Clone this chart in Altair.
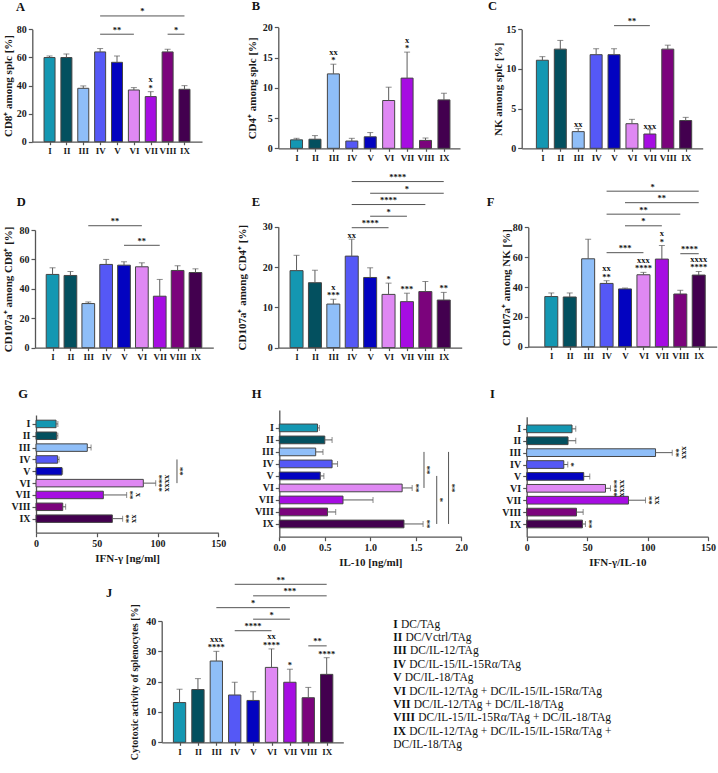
import altair as alt
import pandas as pd

SERIF = "Liberation Serif"
PAGE_W, PAGE_H = 718, 773

groups = ["I", "II", "III", "IV", "V", "VI", "VII", "VIII", "IX"]
colors = ["#1497b2", "#03505f", "#8fbef8", "#5558f6", "#0303c0",
          "#df88f3", "#a60de2", "#7b037c", "#43004f"]

# ---------------- data ----------------
# A  CD8+ among splc
a_mean = [59.9, 59.9, 38.0, 63.9, 56.5, 36.8, 32.1, 63.9, 37.3]
a_sem = [1.1, 2.6, 1.7, 2.4, 4.5, 1.7, 3.5, 1.9, 2.6]
a_lo = ["", "", "", "", "", "", "*", "", ""]
a_hi = ["", "", "", "", "", "", "x", "", ""]
a_lines = (["IV", "IV", "VIII"], ["IX", "VI", "IX"], [89.5, 76.5, 76.5], ["*", "**", "*"])

# B  CD4+ among splc
b_mean = [1.4, 1.5, 12.3, 1.2, 1.9, 7.9, 11.6, 1.3, 8.0]
b_sem = [0.25, 0.6, 1.6, 0.45, 0.7, 2.2, 4.3, 0.4, 1.1]
b_lo = ["", "", "*", "", "", "", "*", "", ""]
b_hi = ["", "", "xx", "", "", "", "x", "", ""]
b_lines = ([], [], [], [])

# C  NK among splc
c_mean = [11.1, 12.5, 2.1, 11.8, 11.8, 3.1, 1.8, 12.5, 3.5]
c_sem = [0.45, 1.1, 0.4, 0.75, 0.75, 0.55, 0.55, 0.5, 0.4]
c_lo = ["", "", "xx", "", "", "", "xxx", "", ""]
c_hi = [""] * 9
c_lines = (["V"], ["VII"], [15.46], ["**"])

# D  CD107a+ among CD8+
d_mean = [49.8, 49.1, 30.0, 56.6, 56.1, 55.0, 35.0, 52.5, 51.1]
d_sem = [4.5, 2.7, 1.1, 3.4, 2.3, 2.7, 11.4, 3.2, 2.5]
d_lo = [""] * 9
d_hi = [""] * 9
d_lines = (["III", "V"], ["VI", "VII"], [82.9, 69.6], ["**", "**"])

# E  CD107a+ among CD4+
e_mean = [19.1, 16.1, 10.8, 22.7, 17.4, 13.2, 11.4, 13.9, 11.8]
e_sem = [3.8, 3.1, 1.2, 4.2, 2.4, 2.8, 2.1, 2.5, 1.9]
e_lo = ["", "", "***", "xx", "", "*", "***", "", "**"]
e_hi = ["", "", "x", "", "", "", "", "", ""]
e_lines = (["IV", "V", "IV", "V", "IV"], ["IX", "IX", "VIII", "VII", "VI"],
           [41.2, 38.3, 35.5, 32.6, 29.75], ["****", "*", "****", "*", "****"])

# F  CD107a+ among NK
f_mean = [33.6, 33.3, 58.9, 42.4, 38.7, 48.2, 58.7, 35.3, 48.0]
f_sem = [2.4, 2.7, 13.1, 1.8, 0.6, 1.6, 9.1, 2.5, 2.4]
f_lo = ["", "", "", "**", "", "****", "*", "", "****"]
f_hi = ["", "", "", "xx", "", "xxx", "x", "", "xxxx"]
f_lines = (["IV", "V", "IV", "V", "IV", "VIII"], ["IX", "IX", "VIII", "VII", "VI", "IX"],
           [104.2, 96.5, 88.8, 81.0, 63.0, 62.3], ["*", "**", "**", "*", "***", "****"])

# G  IFN-gamma
g_mean = [16.5, 17.0, 42.2, 17.8, 21.4, 88.3, 55.4, 22.0, 62.8]
g_sem = [1.5, 1.0, 3.1, 1.2, 0.5, 10.2, 19.2, 2.4, 8.5]
g_near = ["", "", "", "", "", "****", "**", "", "**"]
g_far = ["", "", "", "", "", "xxxx", "x", "", "xx"]
g_lines = (["IV"], ["VI"], [116.0], ["**"])

# H  IL-10
h_mean = [0.42, 0.50, 0.40, 0.58, 0.45, 1.35, 0.70, 0.53, 1.37]
h_sem = [0.02, 0.08, 0.08, 0.06, 0.04, 0.11, 0.33, 0.09, 0.21]
h_near = ["", "", "", "", "", "**", "", "", "**"]
h_far = [""] * 9
h_lines = (["III", "V", "III"], ["VI", "IX", "IX"], [1.59, 1.73, 1.86], ["**", "*", "**"])

# I  IFN-gamma / IL-10
i_mean = [37.5, 34.2, 106.6, 30.7, 47.2, 65.2, 84.2, 41.2, 46.1]
i_sem = [3.1, 6.4, 13.8, 3.3, 5.0, 4.1, 14.1, 5.5, 2.5]
i_near = ["", "", "**", "*", "", "****", "**", "", "**"]
i_far = ["", "", "xxx", "", "", "xxxx", "xx", "", ""]
i_lines = ([], [], [], [])

# J  cytotoxic activity
j_mean = [13.1, 17.4, 26.8, 15.6, 13.8, 24.7, 19.8, 14.7, 22.4]
j_sem = [4.4, 3.6, 3.2, 4.2, 2.9, 6.1, 4.3, 3.4, 5.5]
j_lo = ["", "", "****", "", "", "****", "*", "", "****"]
j_hi = ["", "", "xxx", "", "", "xx", "", "", ""]
j_lines = (["IV", "V", "III", "V", "IV", "VIII"], ["IX", "IX", "VII", "VII", "VI", "IX"],
           [52.1, 48.3, 44.4, 40.6, 36.8, 31.8], ["**", "***", "*", "*", "****", "**"])

panel_letters = ["A", "B", "C", "D", "E", "F", "G", "H", "I", "J"]

leg_num = ["I", "II", "III", "IV", "V", "VI", "VII", "VIII", "IX", ""]
leg_txt = ["DC/TAg", "DC/Vctrl/TAg", "DC/IL-12/TAg", "DC/IL-15/IL-15Rα/TAg", "DC/IL-18/TAg",
           "DC/IL-12/TAg + DC/IL-15/IL-15Rα/TAg", "DC/IL-12/TAg + DC/IL-18/TAg",
           "DC/IL-15/IL-15Rα/TAg + DC/IL-18/TAg", "DC/IL-12/TAg + DC/IL-15/IL-15Rα/TAg +",
           "DC/IL-18/TAg"]

# ---------------- layout (page pixels) ----------------
gA = dict(x0=32.3, x1=202, c0=45.3, c8=188.7, bw=11, y0=141.7, y1=29.3, tx=-20.6)
gB = dict(x0=278.3, x1=460, c0=292.3, c8=448.3, bw=12, y0=148.3, y1=27.3, tx=-22.9)
gC = dict(x0=521.7, x1=702.7, c0=538.3, c8=690, bw=12, y0=148.3, y1=29.3, tx=-20.7)
gD = dict(x0=35, x1=213.3, c0=48.3, c8=199.7, bw=12.7, y0=347.7, y1=230, tx=-24)
gE = dict(x0=278.3, x1=461.7, c0=292.3, c8=448, bw=13, y0=347.6, y1=226.7, tx=-32.3)
gF = dict(x0=528.3, x1=716.7, c0=547.3, c8=703, bw=13, y0=346.7, y1=227.3, tx=-18.9)
gJ = dict(x0=161.7, x1=343.3, c0=175.3, c8=331, bw=12.3, y0=742.3, y1=621, tx=-24, tfs=10)
gG = dict(x0=36, x1=218.3, y0=415, y1=532.7, c0=419.3, c8=522.8, bt=7.5)
gH = dict(x0=279.3, x1=461.3, y0=410, y1=536.7, c0=424, c8=528.3, bt=7.7)
gI = dict(x0=526.7, x1=708, y0=416.7, y1=536.7, c0=424.5, c8=528.3, bt=7.7)
letter_x = [16, 251.7, 488, 16.7, 251.7, 486.7, 18.3, 251.7, 490, 106]
letter_y = [10.5, 10, 10, 206, 206, 206, 398.3, 398, 398, 597]
LEG_X, LEG_Y0, LEG_Y9, LEG_FS = 393.3, 624.7, 745, 11.5
ANN_FS = 8.5

# ---------------- helpers ----------------
LABEL_EXPR = "[" + ",".join("'" + g + "'" for g in groups) + "][datum.value]"
gidx = {g: i for i, g in enumerate(groups)}
COLOR = alt.Color("g:N", scale=alt.Scale(domain=groups, range=colors), legend=None)
ERR_C = "#5c5c5c"
LINE_C = "#555555"
BAR_STROKE = "#454545"


def idx_scale(c0, c8, a0, a1):
    step = (c8 - c0) / 8.0
    return alt.Scale(domain=[(a0 - c0) / step, 8 + (a1 - c8) / step],
                     range=[a0, a1], nice=False, zero=False)


def txt(**kw):
    d = dict(font=SERIF, fontWeight="bold", fontSize=ANN_FS, color="#111111",
             baseline="middle", align="center")
    d.update(kw)
    return d


def line_df(lines):
    f, t, lv, lab = lines
    ldf = pd.DataFrame({"fi": [gidx[a] for a in f], "ti": [gidx[b] for b in t],
                        "lv": lv, "lab": lab})
    ldf["mid"] = (ldf["fi"] + ldf["ti"]) / 2.0
    return ldf


def vpanel(ytitle, means, sems, ticks, lo, hi, lines, g):
    df = pd.DataFrame({"g": groups, "i": list(range(9)), "m": means,
                       "hi": [m + s for m, s in zip(means, sems)], "lo_t": lo, "hi_t": hi})
    xs = idx_scale(g["c0"], g["c8"], g["x0"], g["x1"])
    ys = alt.Scale(domain=[0, ticks[-1]], range=[g["y0"], g["y1"]], nice=False, zero=False)
    xax = alt.Axis(orient="bottom", offset=g["y0"] - PAGE_H, values=list(range(9)),
                   labelExpr=LABEL_EXPR, title=None, tickSize=3, labelFontSize=9)
    yax = alt.Axis(orient="left", offset=-g["x0"], values=ticks, title=ytitle,
                   titleX=g["tx"], titleAngle=-90, titleBaseline="alphabetic",
                   titleAlign="center", titleFontSize=g.get("tfs", 11))

    def X(f):
        return alt.X(f, type="quantitative", scale=xs, axis=xax)

    def Y(f):
        return alt.Y(f, type="quantitative", scale=ys, axis=yax, stack=None)

    base = alt.Chart(df)
    layers = [
        base.mark_bar(orient="vertical", width=g["bw"], stroke=BAR_STROKE, strokeWidth=1)
            .encode(x=X("i"), y=Y("m"), color=COLOR),
        base.mark_rule(color=ERR_C, strokeWidth=1).encode(x=X("i"), y=Y("m"), y2="hi:Q"),
        base.mark_tick(orient="horizontal", size=6, thickness=1, color=ERR_C)
            .encode(x=X("i"), y=Y("hi")),
        base.mark_text(**txt(dy=-4)).encode(x=X("i"), y=Y("hi"), text="lo_t:N"),
        base.mark_text(**txt(dy=-12.6)).encode(x=X("i"), y=Y("hi"), text="hi_t:N"),
    ]
    if lines[0]:
        lb = alt.Chart(line_df(lines))
        layers += [
            lb.mark_rule(color=LINE_C, strokeWidth=1).encode(x=X("fi"), x2="ti:Q", y=Y("lv")),
            lb.mark_text(**txt(baseline="bottom", dy=0.5)).encode(x=X("mid"), y=Y("lv"), text="lab:N"),
        ]
    return alt.layer(*layers)


def hpanel(xtitle, means, sems, ticks, near, far, lines, g, fmt=None):
    df = pd.DataFrame({"g": groups, "i": list(range(9)), "m": means,
                       "hi": [m + s for m, s in zip(means, sems)], "n_t": near, "f_t": far})
    ys = idx_scale(g["c0"], g["c8"], g["y0"], g["y1"])
    xs = alt.Scale(domain=[ticks[0], ticks[-1]], range=[g["x0"], g["x1"]], nice=False, zero=False)
    yax = alt.Axis(orient="left", offset=-g["x0"], values=list(range(9)),
                   labelExpr=LABEL_EXPR, title=None)
    if fmt:
        xax = alt.Axis(orient="bottom", offset=g["y1"] - PAGE_H, values=ticks, title=xtitle, format=fmt)
    else:
        xax = alt.Axis(orient="bottom", offset=g["y1"] - PAGE_H, values=ticks, title=xtitle)

    def X(f):
        return alt.X(f, type="quantitative", scale=xs, axis=xax, stack=None)

    def Y(f):
        return alt.Y(f, type="quantitative", scale=ys, axis=yax)

    base = alt.Chart(df)
    layers = [
        base.mark_bar(orient="horizontal", height=g["bt"], stroke=BAR_STROKE, strokeWidth=1)
            .encode(x=X("m"), y=Y("i"), color=COLOR),
        base.mark_rule(color=ERR_C, strokeWidth=1).encode(x=X("m"), x2="hi:Q", y=Y("i")),
        base.mark_tick(orient="vertical", size=6, thickness=1, color=ERR_C)
            .encode(x=X("hi"), y=Y("i")),
        base.mark_text(**txt(angle=90, dy=-3.5)).encode(x=X("hi"), y=Y("i"), text="n_t:N"),
        base.mark_text(**txt(angle=90, dy=-12.6)).encode(x=X("hi"), y=Y("i"), text="f_t:N"),
    ]
    if lines[0]:
        lb = alt.Chart(line_df(lines))
        layers += [
            lb.mark_rule(color=LINE_C, strokeWidth=1).encode(y=Y("fi"), y2="ti:Q", x=X("lv")),
            lb.mark_text(**txt(angle=90, dy=-3)).encode(x=X("lv"), y=Y("mid"), text="lab:N"),
        ]
    return alt.layer(*layers)


A = vpanel("CD8⁺ among splc [%]", a_mean, a_sem, [0, 20, 40, 60, 80], a_lo, a_hi, a_lines, gA)
B = vpanel("CD4⁺ among splc [%]", b_mean, b_sem, [0, 5, 10, 15, 20], b_lo, b_hi, b_lines, gB)
C = vpanel("NK among splc [%]", c_mean, c_sem, [0, 5, 10, 15], c_lo, c_hi, c_lines, gC)
D = vpanel("CD107a⁺ among CD8⁺ [%]", d_mean, d_sem, [0, 20, 40, 60, 80], d_lo, d_hi, d_lines, gD)
E = vpanel("CD107a⁺ among CD4⁺ [%]", e_mean, e_sem, [0, 10, 20, 30], e_lo, e_hi, e_lines, gE)
F = vpanel("CD107a⁺ among NK [%]", f_mean, f_sem, [0, 20, 40, 60, 80], f_lo, f_hi, f_lines, gF)
G = hpanel("IFN-γ [ng/ml]", g_mean, g_sem, [0, 50, 100, 150], g_near, g_far, g_lines, gG)
H = hpanel("IL-10 [ng/ml]", h_mean, h_sem, [0, 0.5, 1.0, 1.5, 2.0], h_near, h_far, h_lines, gH, fmt=".1f")
I = hpanel("IFN-γ/IL-10", i_mean, i_sem, [0, 50, 100, 150], i_near, i_far, i_lines, gI)
J = vpanel("Cytotoxic activity of splenocytes [%]", j_mean, j_sem, [0, 10, 20, 30, 40],
           j_lo, j_hi, j_lines, gJ)

# page-identity scales for labels
PX = alt.Scale(domain=[0, PAGE_W], range=[0, PAGE_W], nice=False, zero=False)
PY = alt.Scale(domain=[0, PAGE_H], range=[0, PAGE_H], nice=False, zero=False)

letters = alt.Chart(pd.DataFrame({"t": panel_letters, "px": letter_x, "py": letter_y})).mark_text(
    align="left", baseline="alphabetic", font=SERIF, fontSize=12.5, fontWeight="bold", color="#111111"
).encode(x=alt.X("px:Q", scale=PX, axis=None), y=alt.Y("py:Q", scale=PY, axis=None), text="t:N")


def num_w(s):
    return sum(0.722 if ch in "VX" else 0.389 for ch in s) * LEG_FS + (3.2 if s else 0)


step_y = (LEG_Y9 - LEG_Y0) / 9.0
ldf = pd.DataFrame({"num": leg_num, "txt": leg_txt,
                    "nx": [LEG_X] * len(leg_num),
                    "tx": [LEG_X + num_w(s) for s in leg_num],
                    "ly": [LEG_Y0 + k * step_y for k in range(len(leg_num))]})
lbase = alt.Chart(ldf)
legend = alt.layer(
    lbase.mark_text(align="left", baseline="middle", font=SERIF, fontSize=LEG_FS,
                    fontWeight="bold", color="#111111")
        .encode(x=alt.X("nx:Q", scale=PX, axis=None), y=alt.Y("ly:Q", scale=PY, axis=None), text="num:N"),
    lbase.mark_text(align="left", baseline="middle", font=SERIF, fontSize=LEG_FS,
                    fontWeight="normal", color="#111111")
        .encode(x=alt.X("tx:Q", scale=PX, axis=None), y=alt.Y("ly:Q", scale=PY, axis=None), text="txt:N"),
)

chart = alt.layer(A, B, C, D, E, F, G, H, I, J, legend, letters).resolve_scale(
    x="independent", y="independent"
).resolve_axis(
    x="independent", y="independent"
).properties(
    width=PAGE_W, height=PAGE_H, padding=0, autosize=alt.AutoSizeParams(type="none")
).configure_view(stroke=None).configure_axis(
    labelFont=SERIF, labelFontSize=10, labelFontWeight="bold", labelColor="#1a1a1a",
    titleFont=SERIF, titleFontSize=11, titleFontWeight="bold", titleColor="#1a1a1a",
    domainColor="#555555", domainWidth=1.3, tickColor="#555555", tickWidth=1.2,
    tickSize=4, grid=False, labelPadding=2, labelFlush=False, labelOverlap=False,
)

chart.save("out.html", embed_options={"renderer": "svg", "actions": False})
